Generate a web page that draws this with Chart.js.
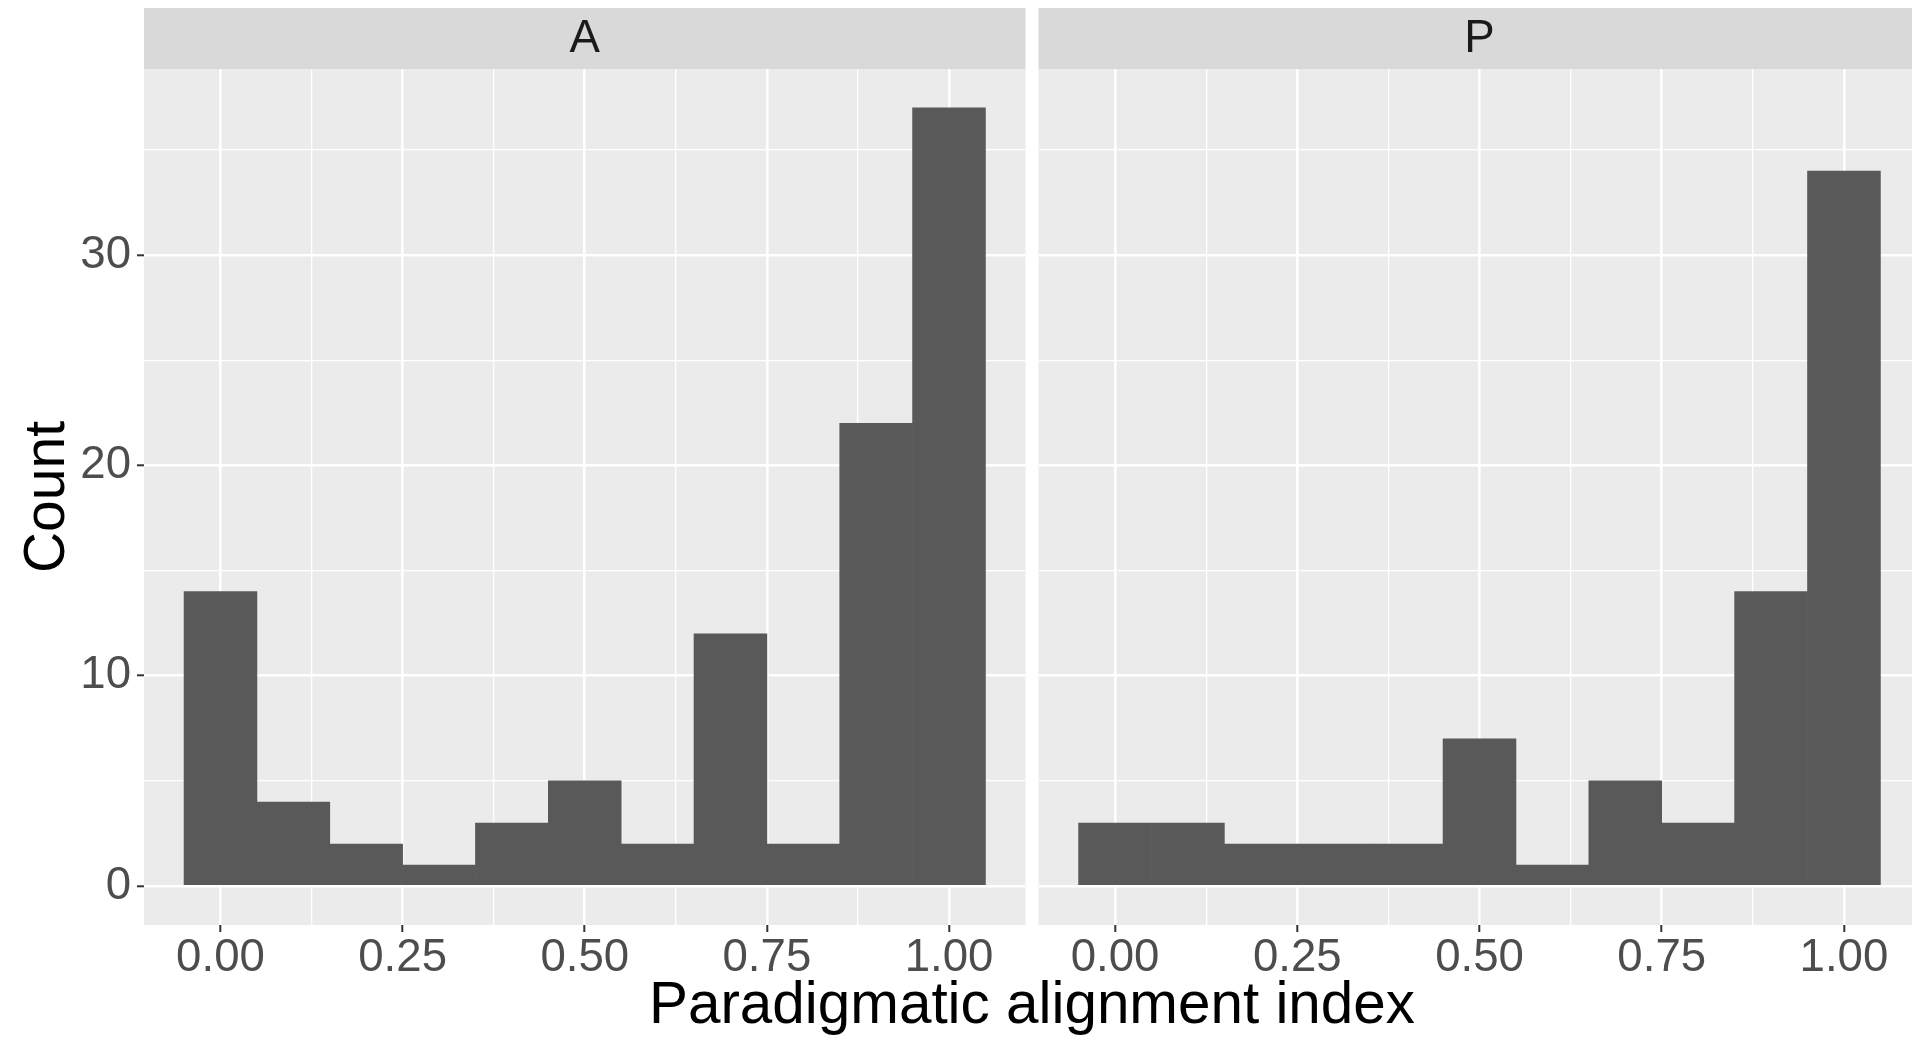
<!DOCTYPE html>
<html lang="en">

<head>
  <meta charset="UTF-8" />
  <title>Paradigmatic alignment index</title>
  <script src="https://cdn.jsdelivr.net/npm/chart.js"></script>
  <style>
    body { margin: 0; overflow: hidden; background: #fff; font-family: "Liberation Sans", Arial, sans-serif; }
    .panel { position: absolute; top: 0; height: 1045px; }
    #boxA { left: 0; width: 1032px; }
    #boxP { left: 1032px; width: 893px; }
    #xTitle {
      position: absolute; left: 1032px; top: 973.6px; transform: translateX(-50%);
      font-size: 58.4px; line-height: 1; color: #000; white-space: nowrap;
    }
  </style>
</head>

<body>
  <div class="panel" id="boxA"><canvas id="chartA"></canvas></div>
  <div class="panel" id="boxP"><canvas id="chartP"></canvas></div>
  <div id="xTitle">Paradigmatic alignment index</div>

  <script>
    // histogram bins (width 0.1) and counts for each facet
    var binCenters = [0, 0.1, 0.2, 0.3, 0.4, 0.5, 0.6, 0.7, 0.8, 0.9, 1.0];
    var countsA = [14, 4, 2, 1, 3, 5, 2, 12, 2, 22, 37];
    var countsP = [3, 3, 2, 2, 2, 7, 1, 5, 3, 14, 34];

    // axis ticks
    var xMajor = [0, 0.25, 0.5, 0.75, 1.0];
    var xMinor = [0.125, 0.375, 0.625, 0.875];
    var yMajor = [0, 10, 20, 30];
    var yMinor = [5, 15, 25, 35];

    Chart.defaults.font.family = '"Liberation Sans", Arial, sans-serif';
    Chart.defaults.animation = false;

    // grey panel + strip background, like ggplot facets
    var panelBg = {
      id: 'panelBg',
      beforeDraw: function (chart) {
        var ctx = chart.ctx, a = chart.chartArea, t = chart.titleBlock;
        ctx.save();
        ctx.fillStyle = '#D9D9D9';
        ctx.fillRect(a.left, t.top, a.right - a.left, a.top - t.top);
        ctx.fillStyle = '#EBEBEB';
        ctx.fillRect(a.left, a.top, a.right - a.left, a.bottom - a.top);
        ctx.restore();
      }
    };

    function setTicks(values) {
      return function (scale) {
        scale.ticks = values.slice().sort(function (a, b) { return a - b; })
          .map(function (v) { return { value: v }; });
      };
    }

    function isMajor(c, major) {
      return !!c.tick && major.includes(c.tick.value);
    }

    function gridOpts(major, showTicks) {
      return {
        offset: false,
        color: '#FFFFFF',
        lineWidth: function (c) { return isMajor(c, major) ? 2.6 : 1.3; },
        drawTicks: showTicks,
        tickLength: 7,
        tickWidth: 2,
        tickColor: function (c) { return isMajor(c, major) ? '#333333' : 'rgba(0,0,0,0)'; }
      };
    }

    function makeConfig(name, counts, isFirst) {
      return {
        type: 'bar',
        data: {
          datasets: [{
            data: binCenters.map(function (x, i) { return { x: x, y: counts[i] }; }),
            backgroundColor: '#595959',
            borderWidth: 0,
            barPercentage: 1,
            categoryPercentage: 1
          }]
        },
        options: {
          responsive: true,
          maintainAspectRatio: false,
          layout: { padding: { top: 8, left: 0, right: isFirst ? 6.5 : 4.5, bottom: 0 } },
          plugins: {
            legend: { display: false },
            tooltip: { enabled: false },
            title: {
              display: true,
              text: name,
              fullSize: false,
              color: '#1A1A1A',
              font: { size: 45.6, weight: 'normal', lineHeight: 1.2 },
              padding: { top: 4.5, bottom: 1.8 }
            }
          },
          scales: {
            x: {
              type: 'linear',
              offset: false,
              min: -0.105,
              max: 1.105,
              afterBuildTicks: setTicks(xMajor.concat(xMinor)),
              afterFit: function (s) { s.height = 120; },
              border: { display: false },
              grid: gridOpts(xMajor, true),
              ticks: {
                color: '#4D4D4D',
                font: { size: 45.6, lineHeight: 1.2 },
                padding: -1,
                maxRotation: 0,
                autoSkip: false,
                callback: function (v) { return xMajor.includes(v) ? v.toFixed(2) : ''; }
              }
            },
            y: {
              min: -1.85,
              max: 38.85,
              afterBuildTicks: setTicks(yMajor.concat(yMinor)),
              afterFit: function (s) { s.width = isFirst ? 144 : 6.5; },
              border: { display: false },
              grid: gridOpts(yMajor, isFirst),
              title: {
                display: isFirst,
                text: 'Count',
                color: '#000000',
                font: { size: 57, lineHeight: 1.2 },
                padding: { top: 14, bottom: 0 }
              },
              ticks: {
                display: isFirst,
                color: '#4D4D4D',
                font: { size: 45.6 },
                padding: 6,
                autoSkip: false,
                callback: function (v) { return yMajor.includes(v) ? String(v) : ''; }
              }
            }
          }
        },
        plugins: [panelBg]
      };
    }

    var chartA = new Chart(document.getElementById('chartA').getContext('2d'), makeConfig('A', countsA, true));
    var chartP = new Chart(document.getElementById('chartP').getContext('2d'), makeConfig('P', countsP, false));
  </script>
</body>

</html>
